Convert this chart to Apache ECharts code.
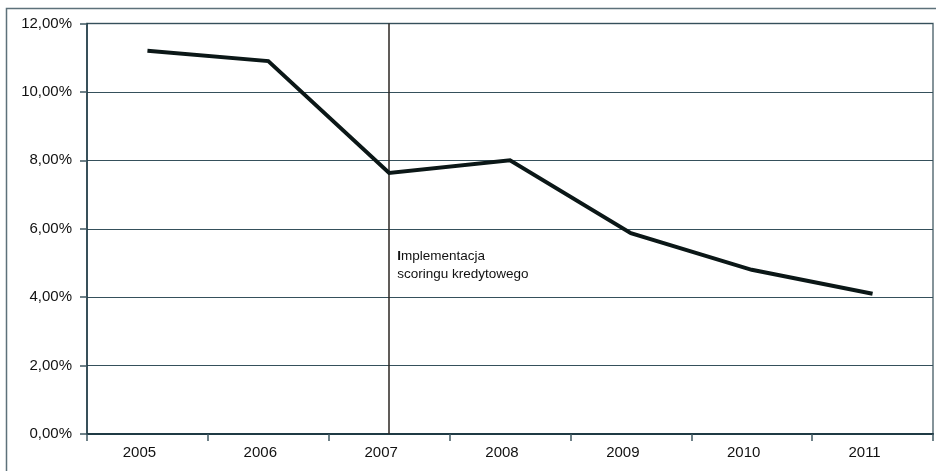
<!DOCTYPE html>
<html>
<head>
<meta charset="utf-8">
<script src="https://cdn.jsdelivr.net/npm/echarts@6/dist/echarts.min.js"></script>
<style>
  html, body { margin: 0; padding: 0; background: #ffffff; }
  #chart { width: 936px; height: 471px; }
</style>
</head>
<body>
<div id="chart"></div>
<script>
// Years on the horizontal axis
const years = ['2005', '2006', '2007', '2008', '2009', '2010', '2011'];
// Share of bad loans per year, in percent
const rates = [11.2, 10.9, 7.63, 8.0, 5.87, 4.8, 4.1];
// Year in which credit scoring was introduced, and the note placed beside it
const eventYear = '2007';
const eventNoteLines = ['Implementacja', 'scoringu kredytowego'];
const eventNoteLevel = 4.92;
// Value axis range and step
const yMin = 0, yMax = 12, yStep = 2;

const chart = echarts.init(document.getElementById('chart'), null, { renderer: 'canvas' });

const fontFamily = '"Liberation Sans", Arial, sans-serif';
const gridColor = '#35505b';
const lineColor = '#0b1717';

chart.setOption({
  animation: false,
  backgroundColor: '#ffffff',
  graphic: [{
    type: 'rect',
    left: 4, top: 6,
    shape: { width: 960, height: 490 },
    style: { fill: 'none', stroke: '#5d717a', lineWidth: 1.5 },
    silent: true,
    z: -1
  }],
  grid: {
    left: 87, right: 3, top: 23.5, bottom: 37,
    show: true,
    borderColor: '#5d717a',
    borderWidth: 1.5,
    backgroundColor: 'transparent'
  },
  xAxis: {
    type: 'category',
    data: years,
    boundaryGap: true,
    axisLine: { show: true, lineStyle: { color: '#1f3a44', width: 2 } },
    axisTick: { show: true, alignWithLabel: false, length: 7, lineStyle: { color: '#3f5862', width: 1.5 } },
    axisLabel: {
      color: '#111111', fontSize: 15, fontFamily: fontFamily, margin: 11,
      padding: [0, 16, 0, 0]
    },
    splitLine: { show: false }
  },
  yAxis: {
    type: 'value',
    min: yMin, max: yMax, interval: yStep,
    axisLine: { show: true, lineStyle: { color: '#1f3a44', width: 1.5 } },
    axisTick: { show: true, length: 7, lineStyle: { color: '#3f5862', width: 1.5 } },
    axisLabel: {
      color: '#111111', fontSize: 15, fontFamily: fontFamily, margin: 15,
      formatter: v => v.toFixed(2).replace('.', ',') + '%'
    },
    splitLine: { show: true, lineStyle: { color: gridColor, width: 1.2 } }
  },
  series: [{
    type: 'line',
    data: rates,
    symbol: 'none',
    lineStyle: { color: lineColor, width: 4, join: 'miter' },
    z: 5,
    markLine: {
      silent: true,
      symbol: 'none',
      label: { show: false },
      lineStyle: { color: '#2b2622', width: 1.5, type: 'solid' },
      data: [{ xAxis: eventYear }],
      z: 3
    },
    markPoint: {
      silent: true,
      symbol: 'circle',
      symbolSize: 0,
      data: [{ coord: [eventYear, eventNoteLevel] }],
      label: {
        show: true,
        position: 'right',
        distance: 8,
        align: 'left',
        formatter: '{b|' + eventNoteLines[0].charAt(0) + '}{t|' + eventNoteLines[0].slice(1) + '}\n{t|' + eventNoteLines[1] + '}',
        rich: {
          b: { fontFamily: fontFamily, fontSize: 13.5, fontWeight: 'bold', color: '#111111', lineHeight: 18 },
          t: { fontFamily: fontFamily, fontSize: 13.5, color: '#111111', lineHeight: 18 }
        }
      }
    }
  }]
});
</script>
</body>
</html>
